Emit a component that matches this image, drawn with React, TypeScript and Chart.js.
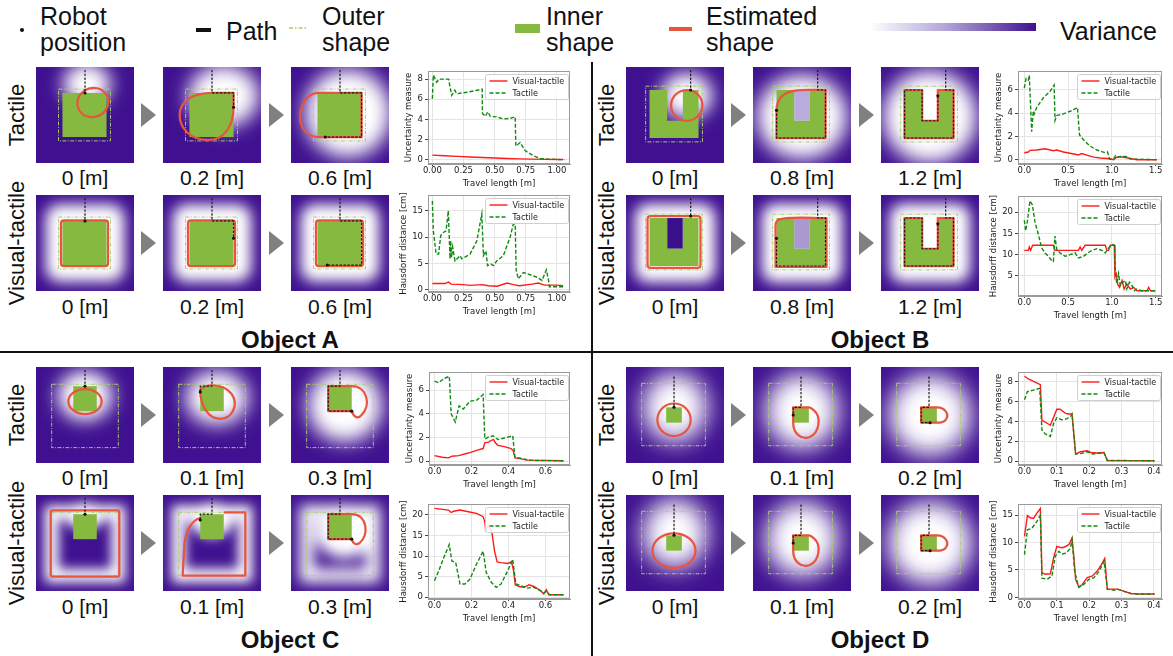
import React, { useEffect, useRef } from 'react';
import { Chart, registerables } from 'chart.js';
Chart.register(...registerables);

type Pt = [number, number];

// ---------------- Data ----------------
// Object A
const aUncVisual: Pt[] = [[0, 0.45], [0.1, 0.39], [0.2, 0.33], [0.3, 0.27], [0.4, 0.22], [0.5, 0.17], [0.6, 0.12], [0.7, 0.08], [0.8, 0.05], [0.9, 0.03], [1.05, 0.02]];
const aUncTactile: Pt[] = [[0, 6.05], [0.008, 8.4], [0.035, 7.7], [0.056, 8.0], [0.09, 8.0], [0.13, 8.0], [0.155, 6.4], [0.18, 6.9], [0.195, 6.55], [0.275, 6.7], [0.36, 6.9], [0.4, 7.0], [0.402, 4.6], [0.425, 4.3], [0.445, 4.75], [0.465, 4.3], [0.515, 4.25], [0.57, 4.05], [0.62, 4.1], [0.665, 4.25], [0.67, 1.35], [0.705, 1.7], [0.745, 0.9], [0.81, 0.4], [0.865, 0.13], [0.92, 0.06], [1.06, 0]];
const aHausVisual: Pt[] = [[0, 1.2], [0.1, 1.2], [0.13, 1.5], [0.15, 1.1], [0.25, 1.0], [0.3, 0.85], [0.4, 1.0], [0.45, 0.8], [0.52, 0.7], [0.6, 1.3], [0.65, 1.0], [0.7, 0.8], [0.8, 1.1], [0.85, 1.3], [0.9, 0.9], [1.0, 0.9], [1.05, 0.8]];
const aHausTactile: Pt[] = [[0, 16.9], [0.008, 11.2], [0.03, 6.8], [0.05, 6.8], [0.067, 10.3], [0.088, 10.9], [0.11, 11.2], [0.128, 15.0], [0.142, 5.9], [0.147, 9.3], [0.155, 6.2], [0.163, 8.1], [0.182, 5.5], [0.21, 6.2], [0.222, 6.5], [0.236, 5.9], [0.303, 6.8], [0.357, 9.3], [0.397, 14.4], [0.41, 6.5], [0.43, 7.4], [0.443, 4.6], [0.47, 4.9], [0.49, 4.6], [0.517, 5.5], [0.57, 6.5], [0.624, 10.0], [0.65, 12.5], [0.665, 12.5], [0.673, 3.7], [0.69, 2.1], [0.73, 3.3], [0.77, 3.0], [0.84, 2.4], [0.88, 1.8], [0.915, 3.8], [0.933, 1.8], [0.94, 0.6], [1.053, 0.6]];
// Object B
const bUncVisual: Pt[] = [[0, 0.6], [0.046, 0.66], [0.065, 0.8], [0.14, 0.83], [0.237, 0.94], [0.332, 0.77], [0.37, 0.83], [0.447, 0.66], [0.58, 0.47], [0.618, 0.41], [0.656, 0.53], [0.714, 0.39], [0.79, 0.22], [0.867, 0.14], [0.98, 0.08], [1.02, 0.0], [1.05, 0.19], [1.096, 0.25], [1.17, 0.17], [1.286, 0.0], [1.515, 0]];
const bUncTactile: Pt[] = [[0, 6.14], [0.02, 6.97], [0.046, 6.83], [0.057, 7.25], [0.084, 2.4], [0.103, 4.2], [0.114, 3.93], [0.14, 4.48], [0.218, 5.31], [0.294, 5.86], [0.34, 6.4], [0.351, 3.37], [0.37, 3.79], [0.447, 3.93], [0.54, 4.2], [0.607, 4.48], [0.63, 2.13], [0.675, 1.71], [0.752, 1.16], [0.828, 0.83], [0.924, 0.6], [0.95, 0.66], [0.973, 0.05], [1.02, 0.1], [1.04, 0.33], [1.057, 0.19], [1.096, 0.28], [1.17, 0.25], [1.21, 0.05], [1.515, 0]];
const bHausVisual: Pt[] = [[0, 11.0], [0.046, 11.0], [0.057, 11.8], [0.072, 11.0], [0.095, 12.2], [0.18, 12.2], [0.332, 12.2], [0.35, 11.0], [0.618, 11.0], [0.637, 11.8], [0.656, 11.0], [0.695, 12.2], [0.924, 12.2], [0.943, 11.0], [0.962, 11.0], [0.981, 12.2], [1.027, 12.2], [1.035, 4.7], [1.05, 5.5], [1.065, 3.1], [1.088, 2.3], [1.115, 3.9], [1.14, 1.9], [1.17, 3.1], [1.21, 1.9], [1.248, 2.3], [1.286, 1.5], [1.4, 1.5], [1.42, 2.3], [1.44, 1.5], [1.496, 1.5]];
const bHausTactile: Pt[] = [[0, 18.1], [0.015, 15.6], [0.034, 17.7], [0.065, 22.7], [0.092, 21.7], [0.122, 17.7], [0.16, 14.8], [0.198, 11.6], [0.237, 10.4], [0.275, 9.6], [0.313, 8.6], [0.332, 8.4], [0.35, 14.4], [0.37, 11.2], [0.408, 10.4], [0.466, 9.6], [0.523, 10.0], [0.58, 10.4], [0.618, 9.2], [0.675, 9.6], [0.752, 10.8], [0.828, 11.4], [0.886, 11.0], [0.924, 10.4], [0.962, 11.6], [1.01, 12.4], [1.03, 12.2], [1.04, 5.5], [1.057, 3.1], [1.076, 5.5], [1.096, 2.7], [1.126, 3.5], [1.153, 3.9], [1.17, 1.9], [1.2, 3.5], [1.23, 2.7], [1.256, 1.5], [1.286, 1.9], [1.34, 1.5], [1.496, 1.5]];
// Object C
const cUncVisual: Pt[] = [[0, 0.46], [0.041, 0.33], [0.076, 0.27], [0.094, 0.41], [0.13, 0.46], [0.183, 0.68], [0.236, 0.95], [0.263, 1.06], [0.272, 1.55], [0.293, 1.6], [0.307, 1.76], [0.32, 1.82], [0.329, 1.55], [0.343, 1.33], [0.378, 1.22], [0.414, 1.06], [0.426, 0.87], [0.435, 0.27], [0.467, 0.19], [0.502, 0.08], [0.698, 0.03]];
const cUncTactile: Pt[] = [[0, 6.76], [0.023, 6.62], [0.05, 6.97], [0.08, 7.16], [0.09, 3.99], [0.112, 3.31], [0.133, 4.67], [0.156, 4.4], [0.192, 5.07], [0.227, 5.13], [0.263, 5.62], [0.272, 1.87], [0.293, 2.04], [0.316, 2.14], [0.343, 1.82], [0.378, 1.95], [0.423, 2.14], [0.435, 0.33], [0.467, 0.24], [0.502, 0.11], [0.538, 0.05], [0.698, 0.03]];
const cHausVisual: Pt[] = [[0, 21.6], [0.076, 21.2], [0.09, 20.6], [0.103, 20.9], [0.138, 21.2], [0.183, 20.8], [0.227, 20.4], [0.263, 19.6], [0.272, 18.4], [0.277, 16.4], [0.286, 17.2], [0.298, 17.2], [0.311, 15.6], [0.325, 11.2], [0.339, 8.6], [0.36, 8.4], [0.396, 8.2], [0.417, 8.6], [0.428, 6.4], [0.437, 3.0], [0.458, 2.6], [0.485, 2.4], [0.511, 3.0], [0.538, 2.6], [0.573, 1.6], [0.591, 0.8], [0.605, 1.8], [0.618, 0.6], [0.698, 0.6]];
const cHausTactile: Pt[] = [[0, 4.0], [0.023, 6.4], [0.05, 9.6], [0.08, 12.8], [0.094, 8.8], [0.115, 8.4], [0.138, 3.2], [0.165, 3.2], [0.192, 4.4], [0.227, 8.0], [0.263, 11.2], [0.28, 6.0], [0.307, 3.6], [0.334, 2.4], [0.36, 3.2], [0.396, 6.4], [0.423, 9.2], [0.431, 6.4], [0.44, 3.2], [0.467, 2.8], [0.502, 2.2], [0.538, 2.4], [0.573, 1.6], [0.591, 1.0], [0.605, 1.4], [0.623, 0.6], [0.698, 0.6]];
// Object D
const dUncVisual: Pt[] = [[0, 8.58], [0.012, 8.32], [0.028, 8.06], [0.049, 7.73], [0.054, 4.11], [0.064, 3.95], [0.08, 3.62], [0.09, 4.43], [0.1, 5.24], [0.11, 5.24], [0.127, 4.82], [0.137, 4.76], [0.147, 4.76], [0.158, 0.71], [0.173, 0.94], [0.194, 1.04], [0.205, 0.87], [0.225, 0.81], [0.246, 0.87], [0.256, 0.06], [0.402, 0.03]];
const dUncTactile: Pt[] = [[0, 6.21], [0.009, 7.02], [0.028, 7.18], [0.047, 7.35], [0.054, 3.14], [0.064, 2.75], [0.08, 2.49], [0.09, 3.79], [0.1, 4.37], [0.116, 4.17], [0.13, 4.27], [0.142, 4.5], [0.147, 4.76], [0.158, 0.71], [0.178, 0.78], [0.194, 0.94], [0.21, 0.71], [0.23, 0.78], [0.246, 0.81], [0.256, 0.06], [0.402, 0.03]];
const dHausVisual: Pt[] = [[0, 11.1], [0.009, 14.9], [0.018, 14.5], [0.028, 14.4], [0.038, 15.3], [0.049, 16.2], [0.054, 4.5], [0.064, 4.2], [0.08, 4.3], [0.09, 7.2], [0.1, 9.3], [0.11, 9.1], [0.121, 9.1], [0.137, 9.6], [0.147, 10.8], [0.153, 7.2], [0.158, 3.3], [0.168, 1.9], [0.178, 2.3], [0.194, 3.6], [0.21, 3.9], [0.225, 4.8], [0.241, 6.3], [0.248, 7.1], [0.256, 1.5], [0.277, 1.5], [0.288, 1.5], [0.308, 1.1], [0.329, 0.7], [0.35, 0.6], [0.402, 0.6]];
const dHausTactile: Pt[] = [[0, 7.8], [0.009, 12.3], [0.023, 12.6], [0.038, 13.8], [0.049, 15.0], [0.054, 3.5], [0.07, 3.3], [0.085, 3.9], [0.095, 7.5], [0.106, 8.4], [0.116, 7.9], [0.13, 8.1], [0.142, 9.0], [0.147, 10.5], [0.155, 4.8], [0.161, 3.3], [0.168, 1.8], [0.184, 2.4], [0.199, 3.3], [0.215, 3.6], [0.23, 4.7], [0.246, 6.6], [0.256, 1.5], [0.277, 1.3], [0.288, 1.5], [0.308, 1.1], [0.329, 0.7], [0.35, 0.6], [0.402, 0.6]];

// Tick labels
const aXTicks = [0, 0.25, 0.5, 0.75, 1.0];
const bXTicks = [0, 0.5, 1.0, 1.5];
const cXTicks = [0, 0.2, 0.4, 0.6];
const dXTicks = [0, 0.1, 0.2, 0.3, 0.4];
const aUncYTicks = [0, 2, 4, 6, 8];
const aHausYTicks = [0, 5, 10, 15];
const bUncYTicks = [0, 2, 4, 6];
const bHausYTicks = [5, 10, 15, 20];
const cUncYTicks = [0, 2, 4, 6];
const cHausYTicks = [0, 5, 10, 15, 20];
const dUncYTicks = [0, 2, 4, 6, 8];
const dHausYTicks = [0, 5, 10, 15];

// Thumbnail captions
const aCaptions = ['0 [m]', '0.2 [m]', '0.6 [m]'];
const bCaptions = ['0 [m]', '0.8 [m]', '1.2 [m]'];
const cCaptions = ['0 [m]', '0.1 [m]', '0.3 [m]'];
const dCaptions = ['0 [m]', '0.1 [m]', '0.2 [m]'];
const rowLabels = ['Tactile', 'Visual-tactile'];
const objectNames = ['Object A', 'Object B', 'Object C', 'Object D'];
const seriesLabels = ['Visual-tactile', 'Tactile'];

// ---------------- Styles ----------------
const RED = '#ff1a1a';
const GREEN = '#118a11';
const PURPLE = '#3f1190';
const GREEN_FILL = '#86b940';
const OUTER_C = '#a9cd6b';
const EST_C = '#e8553e';
const SANS = '"Liberation Sans", Arial, Helvetica, sans-serif';
const TICK_FONT = { family: '"DejaVu Sans", sans-serif', size: 8.5 };

interface PlotSpec {
  plot: [number, number, number, number];
  yw: number;
  visual: Pt[];
  tactile: Pt[];
  xr: [number, number];
  yr: [number, number];
  xt: number[];
  yt: number[];
  xd: number;
  title: string;
}

const UNC = 'Uncertainty measure';
const HAUS = 'Hausdorff distance [cm]';

const plots: PlotSpec[] = [
  { plot: [428, 69, 570, 164], yw: 24, visual: aUncVisual, tactile: aUncTactile, xr: [-0.035, 1.105], yr: [-0.43, 8.8], xt: aXTicks, yt: aUncYTicks, xd: 2, title: UNC },
  { plot: [428, 193, 570, 292], yw: 29, visual: aHausVisual, tactile: aHausTactile, xr: [-0.035, 1.105], yr: [-0.4, 18], xt: aXTicks, yt: aHausYTicks, xd: 2, title: HAUS },
  { plot: [1018, 69, 1162, 164], yw: 24, visual: bUncVisual, tactile: bUncTactile, xr: [-0.072, 1.572], yr: [-0.37, 7.6], xt: bXTicks, yt: bUncYTicks, xd: 1, title: UNC },
  { plot: [1018, 194, 1162, 296], yw: 29, visual: bHausVisual, tactile: bHausTactile, xr: [-0.072, 1.572], yr: [0.25, 23.8], xt: bXTicks, yt: bHausYTicks, xd: 1, title: HAUS },
  { plot: [429, 370, 570, 465], yw: 24, visual: cUncVisual, tactile: cUncTactile, xr: [-0.03, 0.733], yr: [-0.33, 7.52], xt: cXTicks, yt: cUncYTicks, xd: 1, title: UNC },
  { plot: [428, 502, 570, 599], yw: 29, visual: cHausVisual, tactile: cHausTactile, xr: [-0.035, 0.733], yr: [-0.45, 22.65], xt: cXTicks, yt: cHausYTicks, xd: 1, title: HAUS },
  { plot: [1018, 370, 1162, 465], yw: 24, visual: dUncVisual, tactile: dUncTactile, xr: [-0.02, 0.425], yr: [-0.4, 9.0], xt: dXTicks, yt: dUncYTicks, xd: 1, title: UNC },
  { plot: [1018, 502, 1162, 599], yw: 29, visual: dHausVisual, tactile: dHausTactile, xr: [-0.02, 0.425], yr: [-0.3, 17], xt: dXTicks, yt: dHausYTicks, xd: 1, title: HAUS },
];

const framePlugin = {
  id: 'frame',
  beforeDatasetsDraw(chart: any) {
    const { ctx, chartArea: a } = chart;
    ctx.save();
    ctx.strokeStyle = '#9a9a9a';
    ctx.lineWidth = 1;
    ctx.strokeRect(Math.round(a.left) + 0.5, Math.round(a.top) + 0.5, Math.round(a.right - a.left) - 1, Math.round(a.bottom - a.top) - 1);
    ctx.restore();
  },
};

const boxLegendPlugin = {
  id: 'boxLegend',
  afterDatasetsDraw(chart: any) {
    const { ctx, chartArea: a } = chart;
    ctx.save();
    ctx.font = '8px "DejaVu Sans", sans-serif';
    const items: [string, string, number[]][] = [[seriesLabels[0], RED, []], [seriesLabels[1], GREEN, [4, 2]]];
    const tw = Math.max(...items.map((i) => ctx.measureText(i[0]).width));
    const w = Math.round(4 + 18 + 5 + tw + 4);
    const h = 25;
    const x = Math.round(a.right - 2 - w) + 0.5;
    const y = Math.round(a.top + 3) + 0.5;
    ctx.fillStyle = 'rgba(255,255,255,0.85)';
    ctx.strokeStyle = '#cfcfcf';
    ctx.lineWidth = 1;
    ctx.beginPath();
    (ctx as any).roundRect ? (ctx as any).roundRect(x, y, w, h, 2) : ctx.rect(x, y, w, h);
    ctx.fill();
    ctx.stroke();
    items.forEach(([label, color, dash], i) => {
      const yy = y + 6.5 + i * 12;
      ctx.strokeStyle = color;
      ctx.lineWidth = 1.4;
      ctx.setLineDash(dash);
      ctx.beginPath();
      ctx.moveTo(x + 4, yy);
      ctx.lineTo(x + 22, yy);
      ctx.stroke();
      ctx.setLineDash([]);
      ctx.fillStyle = '#222';
      ctx.textBaseline = 'middle';
      ctx.fillText(label, x + 27, yy + 0.5);
    });
    ctx.restore();
  },
};

function LinePlot({ s }: { s: PlotSpec }) {
  const ref = useRef<HTMLCanvasElement>(null);
  const [pl, pt, pr, pb] = s.plot;
  const left = pl - s.yw;
  const top = pt - 5;
  const width = pr - left + 5;
  const height = pb - top + 25;
  useEffect(() => {
    const chart = new Chart(ref.current as HTMLCanvasElement, {
      type: 'line',
      data: {
        datasets: [
          { label: seriesLabels[1], data: s.tactile.map(([x, y]) => ({ x, y })), borderColor: GREEN, borderWidth: 1.4, borderDash: [4, 2], pointRadius: 0, fill: false, tension: 0, order: 0 },
          { label: seriesLabels[0], data: s.visual.map(([x, y]) => ({ x, y })), borderColor: RED, borderWidth: 1.4, pointRadius: 0, fill: false, tension: 0, order: 1 },
        ],
      } as any,
      options: {
        responsive: false,
        animation: false,
        devicePixelRatio: 1,
        layout: { padding: { top: 5, right: 5, left: 0, bottom: 0 } },
        scales: {
          x: {
            type: 'linear',
            min: s.xr[0],
            max: s.xr[1],
            afterBuildTicks: (ax: any) => { ax.ticks = s.xt.map((v) => ({ value: v })); },
            afterFit: (ax: any) => { ax.height = 25; },
            ticks: { font: TICK_FONT, color: '#222', padding: 0, maxRotation: 0, autoSkip: false, callback: (v: any) => Number(v).toFixed(s.xd) },
            grid: { color: '#e4e4e4', tickLength: 2, tickColor: '#444' },
            border: { color: '#9a9a9a' },
            title: { display: true, text: 'Travel length [m]', font: TICK_FONT, color: '#222', padding: 0 },
          },
          y: {
            type: 'linear',
            min: s.yr[0],
            max: s.yr[1],
            afterBuildTicks: (ax: any) => { ax.ticks = s.yt.map((v) => ({ value: v })); },
            afterFit: (ax: any) => { ax.width = s.yw; },
            ticks: { font: TICK_FONT, color: '#222', padding: 2, autoSkip: false, callback: (v: any) => String(v) },
            grid: { color: '#e4e4e4', tickLength: 3, tickColor: '#444' },
            border: { color: '#9a9a9a' },
            title: { display: true, text: s.title, font: TICK_FONT, color: '#222', padding: 0 },
          },
        },
        plugins: { legend: { display: false }, tooltip: { enabled: false } },
      } as any,
      plugins: [framePlugin, boxLegendPlugin],
    });
    return () => chart.destroy();
  }, []);
  return <canvas ref={ref} width={width} height={height} style={{ position: 'absolute', left, top, width, height }} />;
}

// ---------------- Thumbnails ----------------
interface Blob { e?: number[]; r?: number[]; band?: number[] }
interface ThumbSpec {
  blobs: Blob[];
  blur: number;
  inner: string;
  outer: number[];
  patches?: { r: number[]; c: string }[];
  est: { el?: number[]; d?: string };
  path: number[][];
  dots: number[][];
}

function rr(x1: number, y1: number, x2: number, y2: number, r: number) {
  return `M${x1 + r},${y1} L${x2 - r},${y1} Q${x2},${y1} ${x2},${y1 + r} L${x2},${y2 - r} Q${x2},${y2} ${x2 - r},${y2} L${x1 + r},${y2} Q${x1},${y2} ${x1},${y2 - r} L${x1},${y1 + r} Q${x1},${y1} ${x1 + r},${y1} Z`;
}

const A_IN = '27,27 72,27 72,73 27,73';
const B_IN = '24,24 42,24 42,56 58,56 58,24 74,24 74,74 24,74';
const C_IN = '38,20 62,20 62,46 38,46';
const D_IN = '41,42 57,42 57,58 41,58';
const A_OUT = [23, 23, 53, 54];
const B_OUT = [20, 20, 58, 58];
const C_OUT = [16, 18, 68, 66];
const D_OUT = [16, 17, 65, 65];
const B_U = 'M24,24 L42,24 L42,56 L58,56 L58,24 L74,24 L74,74 L24,74 Z';
const B_UPATH = [[66, 3], [66, 24], [74, 24], [74, 74], [24, 74], [24, 24], [42, 24], [42, 56], [58, 56], [58, 30]];
const AVT_BLOB = [{ r: [10, 10, 80, 80, 14] }];
const BVT_BLOB = [{ r: [9, 9, 82, 82, 14] }];
const D_EST1 = 'M41,42 L41,58 C41,70 50,76 58,73 C68,68 70,52 62,45 C60,43 58,42 57,42 Z';
const D_EST2 = 'M41,42 L57,42 C66,42 70,50 66,55 C64,58 60,58 57,58 L41,58 Z';

const thumbs: ThumbSpec[][][] = [
  // Object A
  [
    [
      { blobs: [{ e: [52, 18, 24, 22] }], blur: 9, inner: A_IN, outer: A_OUT, est: { el: [58, 37, 16, 15, -30] }, path: [[50, 3], [50, 27]], dots: [[50, 27]] },
      { blobs: [{ e: [62, 30, 36, 32] }], blur: 10, inner: A_IN, outer: A_OUT, est: { d: 'M50,27 L72,27 L72,42 C72,62 62,76 46,76 C28,76 17,64 17,50 C17,36 30,27 50,27 Z' }, path: [[50, 3], [50, 27], [72, 27], [72, 42]], dots: [[72, 42]] },
      { blobs: [{ e: [58, 48, 44, 46] }], blur: 10, inner: A_IN, outer: A_OUT, est: { d: 'M29,27 L72,27 L72,73 L29,73 C10,73 8,55 10,46 C13,33 20,27 29,27 Z' }, path: [[50, 3], [50, 27], [72, 27], [72, 73], [35, 73]], dots: [[35, 73]] },
    ],
    [
      { blobs: AVT_BLOB, blur: 7, inner: A_IN, outer: A_OUT, est: { d: rr(25.5, 26.5, 73.5, 74, 3) }, path: [[50, 3], [50, 27]], dots: [[50, 27]] },
      { blobs: AVT_BLOB, blur: 7, inner: A_IN, outer: A_OUT, est: { d: rr(25.5, 26.5, 73.5, 74, 3) }, path: [[50, 3], [50, 27], [72, 27], [72, 45]], dots: [[72, 45]] },
      { blobs: AVT_BLOB, blur: 7, inner: A_IN, outer: A_OUT, est: { d: rr(25.5, 26.5, 73.5, 74, 3) }, path: [[50, 3], [50, 27], [72, 27], [72, 73], [37, 73]], dots: [[37, 73]] },
    ],
  ],
  // Object B
  [
    [
      { blobs: [{ e: [62, 30, 26, 24] }], blur: 9, inner: B_IN, outer: B_OUT, est: { el: [62, 40, 16, 16, 0] }, path: [[66, 3], [66, 24]], dots: [[66, 24]] },
      { blobs: [{ e: [50, 52, 46, 44] }], blur: 10, inner: B_IN, outer: B_OUT, patches: [{ r: [42, 24, 16, 32], c: '#b9acdc' }], est: { d: 'M30,30 C38,22 58,24 74,24 L74,74 L24,74 L24,45 C24,38 26,34 30,30 Z' }, path: [[66, 3], [66, 24], [74, 24], [74, 74], [24, 74], [24, 45]], dots: [[24, 45]] },
      { blobs: [{ e: [50, 52, 48, 48] }], blur: 10, inner: B_IN, outer: B_OUT, est: { d: B_U }, path: B_UPATH, dots: [[58, 30]] },
    ],
    [
      { blobs: BVT_BLOB, blur: 7, inner: B_IN, outer: B_OUT, patches: [{ r: [42, 24, 16, 32], c: '#3a0f8c' }], est: { d: rr(22, 22, 76, 76, 3) }, path: [[66, 3], [66, 22]], dots: [[66, 22]] },
      { blobs: BVT_BLOB, blur: 7, inner: B_IN, outer: B_OUT, patches: [{ r: [42, 24, 16, 32], c: '#a999d0' }], est: { d: 'M26,26 C34,22 56,24 75,24 L75,75 L23,75 L23,32 C23,29 24,27 26,26 Z' }, path: [[66, 3], [66, 24], [74, 24], [74, 74], [24, 74], [24, 45]], dots: [[24, 45]] },
      { blobs: BVT_BLOB, blur: 7, inner: B_IN, outer: B_OUT, est: { d: B_U }, path: B_UPATH, dots: [[58, 30]] },
    ],
  ],
  // Object C
  [
    [
      { blobs: [{ e: [50, 30, 28, 26] }], blur: 9, inner: C_IN, outer: C_OUT, est: { el: [50, 36, 17, 13, 0] }, path: [[50, 3], [50, 20]], dots: [[50, 20]] },
      { blobs: [{ e: [55, 32, 32, 28] }], blur: 10, inner: C_IN, outer: C_OUT, est: { d: 'M38,24 C45,16 62,18 70,28 C78,40 70,54 58,54 C46,54 38,40 38,24 Z' }, path: [[50, 3], [50, 20], [38, 20], [38, 26]], dots: [[38, 26]] },
      { blobs: [{ e: [55, 40, 38, 38] }], blur: 10, inner: C_IN, outer: C_OUT, est: { d: 'M38,20 L62,20 C78,20 82,40 72,50 C68,55 64,52 62,46 L38,46 Z' }, path: [[50, 3], [50, 20], [38, 20], [38, 46], [62, 46]], dots: [[62, 46]] },
    ],
    [
      { blobs: [{ band: [16, 18, 68, 66, 14] }, { e: [50, 22, 20, 14] }], blur: 6, inner: C_IN, outer: C_OUT, est: { d: rr(15, 16, 85, 85, 2) }, path: [[50, 3], [50, 20]], dots: [[50, 20]] },
      { blobs: [{ band: [16, 18, 68, 66, 14] }, { e: [50, 26, 22, 18] }], blur: 6, inner: C_IN, outer: C_OUT, est: { d: 'M38,24 C30,26 24,36 22,50 L20,84 L84,84 L84,18 L62,18' }, path: [[50, 3], [50, 20], [38, 20], [38, 26]], dots: [[38, 26]] },
      { blobs: [{ band: [16, 18, 68, 66, 14] }, { e: [55, 38, 30, 28] }], blur: 7, inner: C_IN, outer: C_OUT, est: { d: 'M38,20 L62,20 C78,20 80,42 70,50 C66,53 63,50 62,46 L38,46 Z' }, path: [[50, 3], [50, 20], [38, 20], [38, 46], [62, 46]], dots: [[62, 46]] },
    ],
  ],
  // Object D
  [
    [
      { blobs: [{ e: [50, 42, 33, 36] }], blur: 12, inner: D_IN, outer: D_OUT, est: { el: [49, 55, 17, 17, 0] }, path: [[49, 10], [49, 42]], dots: [[49, 42]] },
      { blobs: [{ e: [50, 46, 37, 39] }], blur: 12, inner: D_IN, outer: D_OUT, est: { d: D_EST1 }, path: [[49, 10], [49, 42], [41, 42], [41, 50]], dots: [[41, 50]] },
      { blobs: [{ e: [50, 50, 42, 42] }], blur: 12, inner: D_IN, outer: D_OUT, est: { d: D_EST2 }, path: [[49, 10], [49, 42], [41, 42], [41, 58], [50, 58]], dots: [[50, 58]] },
    ],
    [
      { blobs: [{ e: [50, 40, 33, 36] }], blur: 12, inner: D_IN, outer: D_OUT, est: { el: [49, 58, 22, 18, 0] }, path: [[49, 10], [49, 42]], dots: [[49, 42]] },
      { blobs: [{ e: [50, 46, 37, 39] }], blur: 12, inner: D_IN, outer: D_OUT, est: { d: D_EST1 }, path: [[49, 10], [49, 42], [41, 42], [41, 50]], dots: [[41, 50]] },
      { blobs: [{ e: [50, 50, 43, 43] }], blur: 12, inner: D_IN, outer: D_OUT, est: { d: D_EST2 }, path: [[49, 10], [49, 42], [41, 42], [41, 58], [50, 58]], dots: [[50, 58]] },
    ],
  ],
];

function Thumb({ spec, x, y, id }: { spec: ThumbSpec; x: number; y: number; id: string }) {
  const [ox, oy, ow, oh] = spec.outer;
  return (
    <svg style={{ position: 'absolute', left: x, top: y }} width={98} height={96} viewBox="0 0 100 100" preserveAspectRatio="none">
      <defs>
        <filter id={`f${id}`} x="-60%" y="-60%" width="220%" height="220%">
          <feGaussianBlur stdDeviation={spec.blur} />
        </filter>
        <clipPath id={`c${id}`}>
          <rect x="0" y="0" width="100" height="100" />
        </clipPath>
      </defs>
      <rect x="0" y="0" width="100" height="100" fill={PURPLE} />
      <g clipPath={`url(#c${id})`}>
        <g filter={`url(#f${id})`}>
          {spec.blobs.map((b, i) => {
            if (b.e) return <ellipse key={i} cx={b.e[0]} cy={b.e[1]} rx={b.e[2]} ry={b.e[3]} fill="#ffffff" />;
            if (b.r) return <rect key={i} x={b.r[0]} y={b.r[1]} width={b.r[2]} height={b.r[3]} rx={b.r[4]} fill="#ffffff" />;
            const bd = b.band as number[];
            return <rect key={i} x={bd[0]} y={bd[1]} width={bd[2]} height={bd[3]} fill="none" stroke="#ffffff" strokeWidth={bd[4]} />;
          })}
        </g>
      </g>
      {(spec.patches || []).map((p, i) => (
        <rect key={i} x={p.r[0]} y={p.r[1]} width={p.r[2]} height={p.r[3]} fill={p.c} />
      ))}
      <rect x={ox} y={oy} width={ow} height={oh} fill="none" stroke={OUTER_C} strokeWidth={1} strokeDasharray="4 1.5 1 1.5" />
      <polygon points={spec.inner} fill={GREEN_FILL} />
      {spec.est.el ? (
        <ellipse cx={spec.est.el[0]} cy={spec.est.el[1]} rx={spec.est.el[2]} ry={spec.est.el[3]} transform={`rotate(${spec.est.el[4]} ${spec.est.el[0]} ${spec.est.el[1]})`} fill="none" stroke={EST_C} strokeWidth={2.3} />
      ) : (
        <path d={spec.est.d} fill="none" stroke={EST_C} strokeWidth={2.3} strokeLinejoin="round" />
      )}
      <polyline points={spec.path.map((p) => p.join(',')).join(' ')} fill="none" stroke="#1a1a1a" strokeWidth={1.2} strokeDasharray="2.5 1.5" />
      {spec.dots.map((d, i) => (
        <circle key={i} cx={d[0]} cy={d[1]} r={1.6} fill="#111" />
      ))}
    </svg>
  );
}

const captionSets = [aCaptions, bCaptions, cCaptions, dCaptions];
const quadX = [0, 590];
const quadY = [0, 300];
const thumbX = [36, 163, 291];
const thumbY = [67, 195];
const captionY = [178, 307];
const arrowX = [141, 269];

function Quadrant({ qi }: { qi: number }) {
  const dx = quadX[qi % 2];
  const dy = quadY[Math.floor(qi / 2)];
  const items: React.ReactNode[] = [];
  for (let r = 0; r < 2; r++) {
    items.push(
      <div key={`rl${r}`} style={{ position: 'absolute', left: dx + 17, top: dy + thumbY[r] + 48, transform: 'translate(-50%,-50%) rotate(-90deg)', whiteSpace: 'nowrap', fontFamily: SANS, fontSize: 22, color: '#111', lineHeight: '22px' }}>
        {rowLabels[r]}
      </div>
    );
    for (let c = 0; c < 3; c++) {
      items.push(<Thumb key={`t${r}${c}`} spec={thumbs[qi][r][c]} x={dx + thumbX[c]} y={dy + thumbY[r]} id={`q${qi}r${r}c${c}`} />);
      items.push(
        <div key={`cap${r}${c}`} style={{ position: 'absolute', left: dx + thumbX[c] + 49, top: dy + captionY[r], transform: 'translate(-50%,-50%)', whiteSpace: 'nowrap', fontFamily: SANS, fontSize: 21, color: '#111', lineHeight: '22px' }}>
          {captionSets[qi][c]}
        </div>
      );
    }
    for (let a = 0; a < 2; a++) {
      items.push(
        <svg key={`ar${r}${a}`} style={{ position: 'absolute', left: dx + arrowX[a], top: dy + thumbY[r] + 36 }} width={15} height={24}>
          <polygon points="0,0 15,12 0,24" fill="#808080" />
        </svg>
      );
    }
  }
  items.push(
    <div key="obj" style={{ position: 'absolute', left: dx + 290, top: dy + 340, transform: 'translate(-50%,-50%)', whiteSpace: 'nowrap', fontFamily: SANS, fontWeight: 700, fontSize: 24, color: '#111', lineHeight: '26px' }}>
      {objectNames[qi]}
    </div>
  );
  return <>{items}</>;
}

function HeaderText({ left, lines }: { left: number; lines: string[] }) {
  const top = lines.length === 1 ? 18 : 3;
  return (
    <div style={{ position: 'absolute', left, top, fontFamily: SANS, fontSize: 25, lineHeight: '26px', color: '#111', whiteSpace: 'nowrap' }}>
      {lines.map((l, i) => <div key={i}>{l}</div>)}
    </div>
  );
}

export default function App() {
  return (
    <div style={{ position: 'absolute', left: 0, top: 0, width: 1173, height: 656, background: '#ffffff', overflow: 'hidden' }}>
      {/* Header legend */}
      <div style={{ position: 'absolute', left: 20, top: 28, width: 4, height: 4, borderRadius: 2, background: '#111' }} />
      <HeaderText left={40} lines={['Robot', 'position']} />
      <div style={{ position: 'absolute', left: 196, top: 28, width: 15, height: 4, background: '#111' }} />
      <HeaderText left={226} lines={['Path']} />
      <svg style={{ position: 'absolute', left: 289, top: 26 }} width={18} height={4}>
        <line x1="0" y1="2" x2="18" y2="2" stroke={OUTER_C} strokeWidth={1.5} strokeDasharray="4 2 1.5 2" />
      </svg>
      <HeaderText left={322} lines={['Outer', 'shape']} />
      <div style={{ position: 'absolute', left: 515, top: 24, width: 25, height: 9, background: GREEN_FILL }} />
      <HeaderText left={546} lines={['Inner', 'shape']} />
      <div style={{ position: 'absolute', left: 669, top: 27, width: 23, height: 4, background: EST_C }} />
      <HeaderText left={706} lines={['Estimated', 'shape']} />
      <div style={{ position: 'absolute', left: 870, top: 23, width: 166, height: 8, background: `linear-gradient(to right, #ffffff, #b3a6d9 45%, ${PURPLE})` }} />
      <HeaderText left={1060} lines={['Variance']} />

      {[0, 1, 2, 3].map((q) => <Quadrant key={q} qi={q} />)}
      {plots.map((p, i) => <LinePlot key={i} s={p} />)}

      {/* Separators */}
      <div style={{ position: 'absolute', left: 0, top: 351, width: 1173, height: 2, background: '#111' }} />
      <div style={{ position: 'absolute', left: 591, top: 62, width: 2, height: 594, background: '#111' }} />
    </div>
  );
}
